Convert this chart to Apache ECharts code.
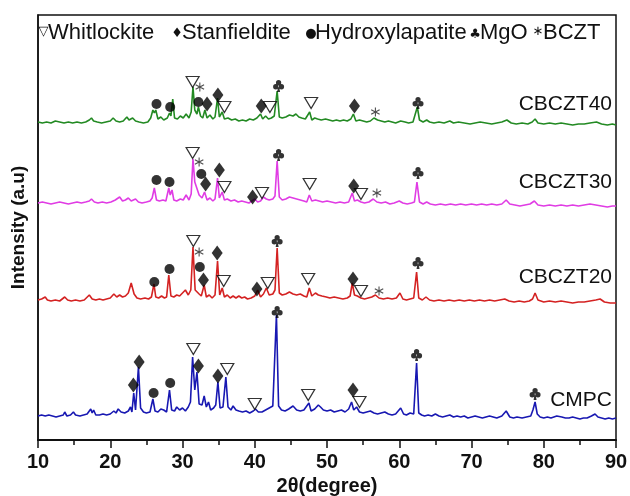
<!DOCTYPE html>
<html><head><meta charset="utf-8">
<script src="https://cdn.jsdelivr.net/npm/echarts/dist/echarts.min.js"></script>
<style>html,body{margin:0;padding:0;background:#fff}#c{width:630px;height:496px}</style>
</head><body><div id="c"></div>
<script>
// ---- tick labels / axis ----
const xTicks = [10, 20, 30, 40, 50, 60, 70, 80, 90];
const sampleNames = ["CBCZT40", "CBCZT30", "CBCZT20", "CMPC"];
const phaseNames = ["Whitlockite", "Stanfieldite", "Hydroxylapatite", "MgO", "BCZT"];
const phaseGlyphs = ["▽", "♦", "●", "♣", "∗"];

// ---- XRD traces (2θ, stacked intensity a.u.) ----
const cbczt40 = [[10,318],[10.6,317],[11.2,318],[11.8,317],[12.4,319],[13,318],[13.6,317],[14.2,318],[14.8,317],[15.4,318],[16,317],[16.6,318],[17.1,320],[17.4,322],[17.7,319],[18.2,318],[18.8,317],[19.4,318],[20,319],[20.4,322],[20.8,319],[21.3,318],[21.8,319],[22.3,323],[22.6,320],[23.1,322],[23.5,319],[24,318],[24.6,317],[25.2,318],[25.6,322],[25.9,330],[26.1,327],[26.3,330],[26.6,321],[27,323],[27.4,320],[27.9,322],[28.2,327],[28.4,324],[28.65,341],[28.9,322],[29.3,321],[29.7,324],[30.1,322],[30.5,326],[30.9,322],[31.2,328],[31.45,353],[31.7,330],[32.0,326],[32.2,333],[32.5,324],[32.8,322],[33.1,330],[33.4,322],[33.8,325],[34.2,321],[34.5,323],[34.85,342],[35.1,323],[35.5,328],[35.8,321],[36.3,322],[36.8,320],[37.3,321],[37.8,319],[38.3,320],[38.8,319],[39.3,321],[39.8,320],[40.3,322],[40.8,326],[41.1,321],[41.5,324],[41.9,321],[42.3,322],[42.7,324],[43.1,349],[43.4,323],[43.8,322],[44.3,323],[44.8,325],[45.3,324],[45.7,326],[46.1,323],[46.5,322],[47.0,321],[47.6,328],[47.9,320],[48.3,322],[48.7,321],[49.2,320],[49.8,321],[50.3,320],[50.8,319],[51.3,320],[51.8,319],[52.3,320],[52.8,319],[53.3,321],[53.65,326],[54.0,319],[54.5,320],[55,319],[55.5,318],[56.0,319],[56.5,322],[57,320],[57.5,319],[58,318],[58.5,319],[59,318],[59.5,317],[60.2,319],[60.8,318],[61.3,317],[61.9,318],[62.5,333],[62.8,320],[63.3,318],[63.8,320],[64.2,318],[64.8,317],[65.5,318],[66.2,317],[67,319],[67.5,317],[68.2,318],[69,317],[69.8,316],[70.5,317],[71.2,318],[72,317],[72.8,316],[73.5,317],[74.2,318],[74.9,320],[75.5,317],[76.2,316],[77,317],[77.8,316],[78.4,318],[78.8,321],[79.2,317],[80,316],[80.8,317],[81.6,316],[82.4,317],[83.2,316],[84,315],[84.8,316],[85.6,316],[86.4,317],[87.3,318],[88,316],[88.8,315],[89.5,316],[90,315]];

const cbczt30 = [[10,237],[10.6,238],[11.2,237],[11.8,236],[12.4,237],[13,238],[13.6,237],[14.2,236],[14.8,237],[15.4,238],[16,237],[16.6,238],[17.1,239],[17.4,241],[17.8,238],[18.3,237],[18.9,238],[19.5,237],[20.1,238],[20.7,240],[21.3,243],[21.7,239],[22.1,240],[22.5,242],[22.9,239],[23.5,241],[23.9,238],[24.4,237],[25,238],[25.5,239],[25.8,242],[26.1,252],[26.4,240],[26.8,239],[27.3,240],[27.7,239],[28.1,252],[28.3,245],[28.55,250],[28.8,240],[29.2,239],[29.7,241],[30.1,240],[30.5,245],[30.9,240],[31.2,246],[31.45,281],[31.7,258],[31.95,260],[32.3,245],[32.7,242],[33.05,248],[33.4,240],[33.8,242],[34.2,239],[34.5,241],[34.85,262],[35.1,242],[35.5,248],[35.8,240],[36.2,241],[36.7,239],[37.2,240],[37.7,238],[38.2,239],[38.7,238],[39.2,237],[39.6,239],[40.0,241],[40.4,238],[40.8,239],[41.2,243],[41.6,241],[42.0,240],[42.5,241],[42.8,244],[43.1,279],[43.4,243],[43.8,240],[44.3,241],[44.8,243],[45.3,242],[45.8,241],[46.3,240],[46.8,239],[47.2,238],[47.55,245],[47.9,239],[48.4,240],[48.9,239],[49.4,238],[50,239],[50.6,238],[51.2,237],[51.8,238],[52.4,237],[53.0,238],[53.5,247],[53.8,239],[54.2,240],[54.7,238],[55.2,237],[55.8,238],[56.4,241],[56.9,238],[57.5,237],[58.1,238],[58.7,236],[59.3,237],[60.0,239],[60.5,237],[61.1,236],[61.7,237],[62.1,238],[62.45,258],[62.8,238],[63.3,236],[63.8,238],[64.3,236],[65,235],[65.7,236],[66.4,235],[67.1,236],[67.8,235],[68.5,236],[69.2,235],[70,236],[70.7,235],[71.4,236],[72.1,235],[72.8,236],[73.5,235],[74.2,236],[74.8,240],[75.3,236],[76,235],[76.7,234],[77.4,235],[78.1,236],[78.7,239],[79.2,235],[80,234],[80.8,235],[81.6,234],[82.4,235],[83.2,234],[84,235],[84.8,234],[85.6,235],[86.4,236],[87.2,235],[88,234],[88.8,233],[89.5,234],[90,234]];

const cbczt20 = [[10,140],[10.5,141],[11,143],[11.3,140],[11.8,139],[12.4,140],[13,139],[13.7,143],[14.1,140],[14.6,139],[15.2,140],[15.8,139],[16.4,140],[17.1,145],[17.5,141],[18,140],[18.5,141],[19,140],[19.5,141],[20,142],[20.5,146],[20.9,143],[21.3,145],[21.7,143],[22.1,144],[22.5,147],[22.9,157],[23.3,146],[23.7,142],[24.2,141],[24.8,142],[25.3,141],[25.7,143],[26.05,156],[26.3,143],[26.7,142],[27.1,144],[27.5,142],[27.8,143],[28.1,165],[28.4,144],[28.8,143],[29.2,145],[29.6,144],[30.0,147],[30.4,150],[30.8,145],[31.15,150],[31.45,193],[31.75,150],[32.0,152],[32.3,146],[32.6,144],[33.0,155],[33.3,143],[33.7,145],[34.1,142],[34.5,145],[34.85,179],[35.15,145],[35.5,152],[35.8,143],[36.2,145],[36.6,142],[37.0,144],[37.4,142],[37.8,144],[38.2,142],[38.6,143],[39.0,141],[39.5,142],[40.0,144],[40.4,150],[40.8,143],[41.2,146],[41.6,152],[42.0,145],[42.5,146],[42.8,150],[43.1,192],[43.4,147],[43.8,145],[44.3,146],[44.8,148],[45.3,146],[45.8,145],[46.3,146],[46.8,144],[47.2,143],[47.55,152],[47.9,144],[48.4,147],[48.8,145],[49.3,144],[49.9,143],[50.4,142],[51,143],[51.6,142],[52.2,141],[52.8,142],[53.2,144],[53.5,157],[53.8,145],[54.2,144],[54.7,142],[55.2,141],[55.7,142],[56.2,143],[56.7,145],[57.2,142],[57.8,141],[58.4,142],[59,141],[59.6,142],[60.1,147],[60.5,141],[61,140],[61.5,141],[62.0,142],[62.4,168],[62.7,142],[63.2,140],[63.7,143],[64.2,140],[64.8,139],[65.5,140],[66.2,139],[66.9,140],[67.6,139],[68.3,140],[69,139],[69.7,140],[70.4,139],[71.1,140],[71.8,139],[72.5,140],[73.2,139],[73.9,140],[74.6,141],[75.2,139],[75.9,138],[76.6,139],[77.3,138],[78,139],[78.45,141],[78.8,147],[79.2,140],[80,138],[80.8,139],[81.6,138],[82.4,139],[83.2,138],[84,137],[84.8,138],[85.6,138],[86.4,139],[87.2,140],[87.8,141],[88.4,138],[89.2,137],[90,137]];

const cmpc = [[10,24],[10.5,25],[11,24],[11.5,25],[12,24],[12.5,23],[13,24],[13.5,25],[13.7,28],[14,24],[14.5,25],[14.9,28],[15.2,25],[15.8,24],[16.3,25],[16.8,26],[17.3,31],[17.5,27],[17.7,30],[18,25],[18.5,25],[19,26],[19.5,25],[20,26],[20.5,29],[20.8,27],[21.1,31],[21.5,28],[22,27],[22.5,29],[22.8,33],[23.0,28],[23.25,47],[23.5,30],[23.9,73],[24.2,32],[24.6,28],[25,27],[25.5,28],[25.9,41],[26.2,29],[26.6,28],[27,31],[27.4,30],[27.8,28],[28.2,50],[28.5,30],[28.9,29],[29.2,33],[29.6,30],[30,32],[30.4,29],[30.8,33],[31.1,38],[31.4,83],[31.7,50],[32.0,68],[32.3,36],[32.7,35],[33.0,44],[33.3,33],[33.6,38],[33.9,30],[34.3,32],[34.6,35],[34.9,58],[35.2,32],[35.6,33],[36.0,63],[36.3,33],[36.7,30],[37.0,34],[37.4,30],[37.8,29],[38.3,28],[38.8,29],[39.3,27],[39.8,29],[40.1,31],[40.5,28],[41,28],[41.5,30],[42,32],[42.5,34],[43.0,125],[43.3,34],[43.7,30],[44.2,29],[44.7,31],[45.3,34],[45.8,30],[46.3,29],[46.8,30],[47.5,37],[47.8,29],[48.3,31],[48.8,35],[49.1,33],[49.5,30],[50,29],[50.5,30],[51,28],[51.5,29],[52,30],[52.5,28],[53.0,31],[53.4,38],[53.7,30],[54.1,33],[54.5,28],[55,27],[55.5,28],[56,29],[56.5,27],[57,26],[57.5,27],[58,28],[58.5,26],[59,25],[59.5,26],[60.2,32],[60.6,26],[61,25],[61.5,27],[62.0,26],[62.4,77],[62.7,27],[63.1,25],[63.5,24],[64,25],[64.5,24],[65,26],[65.5,24],[66,23],[66.5,24],[67,25],[67.5,23],[68,24],[68.5,23],[69,24],[69.5,22],[70,23],[70.5,24],[71,23],[71.5,22],[72,23],[72.5,24],[73,23],[73.5,22],[74.2,24],[74.8,29],[75.3,23],[75.8,22],[76.3,23],[77,22],[77.6,23],[78.2,24],[78.5,30],[78.8,38],[79.1,26],[79.5,23],[80,22],[80.5,23],[81,22],[81.8,24],[82.5,23],[83,22],[83.5,22],[84,23],[84.5,22],[85,21],[85.5,22],[86,22],[86.6,24],[87.1,26],[87.5,23],[88,22],[88.5,21],[89,22],[89.5,21],[90,22]];

// ---- phase markers (2θ, a.u.) ----
const whitlockite = [[31.4,358],[35.8,333],[42.1,333],[47.8,337],[31.4,287],[35.8,253],[41.0,247],[47.6,256],[54.7,246],[31.5,199],[35.7,159],[41.8,157],[47.4,161],[54.7,149],[31.5,91],[36.2,71],[40.0,36],[47.4,45],[54.5,38]];
const stanfieldite = [[33.4,336],[34.9,345],[40.9,334],[53.8,334],[33.2,256],[35.1,270],[39.7,243],[53.7,254],[32.9,160],[34.8,187],[40.3,151],[53.6,161],[23.2,55],[24.0,78],[32.2,74],[34.9,64],[53.6,50]];
const hydroxylapatite = [[26.4,336],[28.3,333],[32.2,338],[26.4,260],[28.2,258],[32.6,266],[26.1,158],[28.2,171],[32.4,173],[26.0,47],[28.3,57]];
const mgo = [[43.3,354],[62.6,337],[43.3,285],[62.6,267],[43.1,199],[62.6,177],[43.1,128],[62.4,85],[78.8,46]];
const bczt = [[32.4,353],[56.7,328],[32.3,278],[56.9,247],[32.3,188],[57.2,149]];

const traces = [cbczt40, cbczt30, cbczt20, cmpc];
const colors = ["#238a23", "#e03ce4", "#d42222", "#1818b2"];

const clubPath = "path://M29,27a21,21 0 1,0 42,0a21,21 0 1,0 -42,0ZM6,58a21,21 0 1,0 42,0a21,21 0 1,0 -42,0ZM52,58a21,21 0 1,0 42,0a21,21 0 1,0 -42,0ZM45,62L38,98L62,98L55,62Z";
const starPath = "path://M45,5L55,5L55,95L45,95ZM8.53,31.83L13.53,23.17L91.47,68.17L86.47,76.83ZM13.53,76.83L8.53,68.17L86.47,23.17L91.47,31.83Z";

const chart = echarts.init(document.getElementById('c'), null, {renderer: 'canvas'});

const series = traces.map((d, i) => ({
  type: 'line', name: sampleNames[i], data: d, showSymbol: false, symbol: 'none',
  lineStyle: {color: colors[i], width: 1.6}, itemStyle: {color: colors[i]},
  animation: false, silent: true, z: 2
}));
const markerDefs = [
  {data: whitlockite, symbol: 'triangle', symbolRotate: 180, symbolSize: [13, 11], itemStyle: {color: '#fff', borderColor: '#000', borderWidth: 1.2}},
  {data: stanfieldite, symbol: 'diamond', symbolSize: [11, 15], itemStyle: {color: '#000'}},
  {data: hydroxylapatite, symbol: 'circle', symbolSize: 10, itemStyle: {color: '#000'}},
  {data: mgo, symbol: clubPath, symbolSize: [11, 12], itemStyle: {color: '#000'}},
  {data: bczt, symbol: starPath, symbolSize: [9, 9], itemStyle: {color: '#222'}}
];
markerDefs.forEach((m, i) => series.push(Object.assign({type: 'scatter', name: phaseNames[i], animation: false, silent: true, z: 5}, m)));

const labelFont = '21px "Liberation Sans", Arial, sans-serif';
const sampleLabelY = [104, 182, 277, 400];
const legendWordX = [48, 182, 315, 480, 543];
const legendGlyphX = [43.5, 177, 311, 475, 538];
const legendGlyphY = [32, 34, 34, 35, 32];
const graphic = [];
sampleNames.forEach((n, i) => graphic.push({type: 'text', x: 612, y: sampleLabelY[i], silent: true,
  style: {text: n, font: labelFont, fill: '#111', align: 'right', verticalAlign: 'middle'}}));
phaseNames.forEach((n, i) => {
  graphic.push({type: 'text', x: legendWordX[i], y: 33, silent: true,
    style: {text: n, font: '22px "Liberation Sans", Arial, sans-serif', fill: '#111', align: 'left', verticalAlign: 'middle'}});
  graphic.push({type: 'text', x: legendGlyphX[i], y: legendGlyphY[i], silent: true,
    style: {text: phaseGlyphs[i], font: '13px "DejaVu Sans", sans-serif', fill: '#111', align: 'center', verticalAlign: 'middle'}});
});

chart.setOption({
  animation: false,
  backgroundColor: '#fff',
  grid: {left: 38, right: 14, top: 15, bottom: 56, containLabel: false, outerBoundsMode: 'none',
    show: true, borderColor: '#111', borderWidth: 1.5, backgroundColor: 'transparent'},
  xAxis: {
    type: 'value', min: xTicks[0], max: xTicks[xTicks.length - 1], interval: 10,
    name: '2θ(degree)', nameLocation: 'middle', nameGap: 34,
    nameTextStyle: {fontSize: 20, fontWeight: 'bold', color: '#111', fontFamily: '"Liberation Sans", Arial, sans-serif'},
    axisLine: {show: true, onZero: false, lineStyle: {color: '#111', width: 2}},
    axisTick: {show: true, inside: false, length: 8, lineStyle: {color: '#111', width: 1.5}},
    minorTick: {show: true, splitNumber: 2, length: 5, lineStyle: {color: '#111', width: 1.5}},
    axisLabel: {show: true, margin: 12, fontSize: 20, fontWeight: 'bold', color: '#111', showMinLabel: true, showMaxLabel: true, hideOverlap: false,
      fontFamily: '"Liberation Sans", Arial, sans-serif'},
    splitLine: {show: false}
  },
  yAxis: {
    type: 'value', min: 0, max: 425,
    name: 'Intensity (a.u)', nameLocation: 'middle', nameGap: 10, nameRotate: 90,
    nameTextStyle: {fontSize: 19, fontWeight: 'bold', color: '#111', fontFamily: '"Liberation Sans", Arial, sans-serif'},
    axisLine: {show: true, lineStyle: {color: '#111', width: 1.5}},
    axisTick: {show: false}, axisLabel: {show: false}, splitLine: {show: false}
  },
  graphic: graphic,
  series: series
});
</script></body></html>
